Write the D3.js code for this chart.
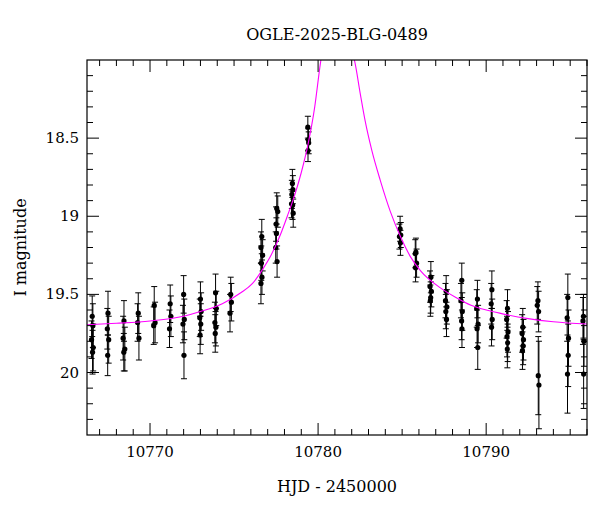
<!DOCTYPE html>
<html><head><meta charset="utf-8">
<script src="https://cdn.jsdelivr.net/npm/d3@7"></script>
<style>body{margin:0;background:#fff}svg{font-family:"DejaVu Serif","Liberation Serif",serif}</style>
</head><body><svg id="c" width="600" height="512"></svg>
<script>
const title = "OGLE-2025-BLG-0489";
const xLabel = "HJD - 2450000";
const yLabel = "I magnitude";
const xTicks = [10770, 10780, 10790];
const yTicks = [18.5, 19, 19.5, 20];
const yTickLabels = ["18.5", "19", "19.5", "20"];
// observations: [HJD-2450000, I mag, error]
const obsTimes = [
 10766.56,10766.6,10766.52,10766.62,10766.58,
 10767.5,10767.46,10767.54,10767.48,
 10768.45,10768.4,10768.5,10768.44,
 10769.3,10769.26,10769.34,
 10770.25,10770.3,10770.22,
 10771.2,10771.24,10771.16,
 10772.0,10772.04,10771.96,10772.02,
 10773.0,10773.04,10772.96,10773.02,10772.98,
 10773.9,10773.94,10773.86,10773.92,10773.88,
 10774.8,10774.84,10774.76,
 10776.65,10776.6,10776.7,10776.62,10776.66,10776.6,
 10777.54,10777.6,10777.5,10777.52,10777.48,10777.56,
 10778.47,10778.5,10778.44,10778.42,10778.48,10778.52,
 10779.39,10779.42,10779.44,10779.4,
 10784.88,10784.92,10784.84,10784.9,
 10785.82,10785.78,10785.86,10785.8,
 10786.71,10786.66,10786.74,10786.7,10786.68,
 10787.62,10787.58,10787.66,10787.6,10787.64,
 10788.55,10788.5,10788.58,10788.54,10788.56,
 10789.48,10789.44,10789.52,10789.46,10789.5,
 10790.34,10790.3,10790.36,10790.32,
 10791.27,10791.22,10791.3,10791.24,10791.28,10791.26,
 10792.18,10792.14,10792.22,10792.2,10792.16,
 10793.08,10793.04,10793.12,10793.1,10793.14,
 10794.86,10794.82,10794.9,10794.88,10794.84,
 10795.79,10795.76,10795.82,10795.8
];
const obsMags = [
 19.64,19.70,19.79,19.84,19.87,
 19.62,19.72,19.79,19.89,
 19.67,19.78,19.85,19.87,
 19.62,19.68,19.78,
 19.57,19.68,19.70,
 19.56,19.64,19.72,
 19.50,19.66,19.69,19.89,
 19.53,19.61,19.65,19.69,19.76,
 19.49,19.59,19.68,19.71,19.75,
 19.50,19.55,19.62,
 19.13,19.20,19.25,19.30,19.39,19.43,
 18.95,18.97,19.05,19.11,19.20,19.29,
 18.79,18.83,18.86,18.92,18.93,18.98,
 18.43,18.51,18.53,18.58,
 19.08,19.12,19.13,19.17,
 19.23,19.24,19.30,19.33,
 19.39,19.45,19.48,19.52,19.54,
 19.48,19.54,19.58,19.61,19.66,
 19.41,19.54,19.61,19.67,19.72,
 19.53,19.59,19.69,19.72,19.84,
 19.47,19.56,19.66,19.71,
 19.59,19.66,19.74,19.77,19.81,19.85,
 19.71,19.75,19.79,19.83,19.86,
 19.54,19.57,19.61,20.02,20.08,
 19.52,19.65,19.78,19.89,20.01,
 19.64,19.67,19.80,20.01
];
const obsErrs = [
 0.13,0.14,0.12,0.15,0.14,
 0.14,0.13,0.15,0.13,
 0.13,0.14,0.14,0.12,
 0.13,0.12,0.14,
 0.12,0.13,0.12,
 0.12,0.13,0.12,
 0.12,0.13,0.12,0.15,
 0.11,0.12,0.12,0.13,0.12,
 0.12,0.11,0.13,0.12,0.12,
 0.11,0.12,0.12,
 0.11,0.10,0.10,0.11,0.11,0.13,
 0.10,0.10,0.11,0.10,0.10,0.10,
 0.09,0.09,0.09,0.09,0.09,0.09,
 0.07,0.07,0.07,0.07,
 0.08,0.08,0.08,0.08,
 0.09,0.09,0.09,0.09,
 0.10,0.10,0.10,0.10,0.10,
 0.10,0.11,0.11,0.11,0.11,
 0.11,0.11,0.12,0.12,0.12,
 0.12,0.12,0.12,0.12,0.14,
 0.12,0.13,0.13,0.12,
 0.12,0.12,0.13,0.13,0.12,0.12,
 0.12,0.12,0.13,0.12,0.12,
 0.12,0.12,0.13,0.25,0.28,
 0.15,0.15,0.18,0.20,0.25,
 0.14,0.15,0.16,0.22
];
// model curve
const modelTimes = [10766.2,10768,10770,10772,10773,10774.3,10775.4,10776.1,10776.7,10777.2,10777.75,10778.2,10778.65,10779,10779.4,10779.8,10780.1,10780.3,
  10781.9,10782.2,10782.5,10782.8,10783.2,10783.7,10784.3,10784.9,10785.5,10786.1,10787.3,10788.2,10789.1,10790.8,10792.5,10794,10796.1];
const modelMags = [19.695,19.685,19.67,19.64,19.61,19.56,19.49,19.43,19.34,19.25,19.12,18.99,18.85,18.72,18.54,18.30,18.05,17.9,
  17.9,18.02,18.21,18.39,18.58,18.77,18.97,19.13,19.26,19.35,19.46,19.52,19.57,19.62,19.655,19.675,19.69];

const svg = d3.select("#c");
const L=87,R=587,T=60,B=435;
const x = d3.scaleLinear().domain([10766.25,10796.0]).range([L,R]);
const y = d3.scaleLinear().domain([18.0,20.4]).range([T,B]);

svg.append("defs").append("clipPath").attr("id","clip").append("rect").attr("x",L).attr("y",T).attr("width",R-L).attr("height",B-T);

const g = svg.append("g").attr("clip-path","url(#clip)");
const obs = obsTimes.map((t,i)=>({t,m:obsMags[i],e:obsErrs[i]}));
obs.forEach(d=>{
  const cx=x(d.t);
  g.append("line").attr("x1",cx).attr("x2",cx).attr("y1",y(d.m-d.e)).attr("y2",y(d.m+d.e)).attr("stroke","#000").attr("stroke-width",1);
  [d.m-d.e,d.m+d.e].forEach(v=>g.append("line").attr("x1",cx-3).attr("x2",cx+3).attr("y1",y(v)).attr("y2",y(v)).attr("stroke","#000").attr("stroke-width",1));
});
obs.forEach(d=>g.append("circle").attr("cx",x(d.t)).attr("cy",y(d.m)).attr("r",2.6).attr("fill","#000"));

const line = d3.line().x(d=>x(d[0])).y(d=>y(d[1])).curve(d3.curveMonotoneX);
g.append("path").datum(modelTimes.slice(0,18).map((t,i)=>[t,modelMags[i]])).attr("d",line).attr("fill","none").attr("stroke","#ff00ff").attr("stroke-width",1.1);
g.append("path").datum(modelTimes.slice(18).map((t,i)=>[t,modelMags[i+18]])).attr("d",line).attr("fill","none").attr("stroke","#ff00ff").attr("stroke-width",1.1);

svg.append("rect").attr("x",L).attr("y",T).attr("width",R-L).attr("height",B-T).attr("fill","none").attr("stroke","#000").attr("stroke-width",1.2);

// ticks on all sides, inward
const ax = svg.append("g").attr("stroke","#000").attr("stroke-width",1);
d3.range(10767,10797,1).forEach(t=>{
  if(x(t)>R) return;
  const major = t%10===0; const len = major?12:6;
  ax.append("line").attr("x1",x(t)).attr("x2",x(t)).attr("y1",B).attr("y2",B-len);
  ax.append("line").attr("x1",x(t)).attr("x2",x(t)).attr("y1",T).attr("y2",T+len);
});
d3.range(181,204,1).forEach(k=>{
  const v=k/10; const major = k%5===0; const len=major?12:6;
  ax.append("line").attr("x1",L).attr("x2",L+len).attr("y1",y(v)).attr("y2",y(v));
  ax.append("line").attr("x1",R).attr("x2",R-len).attr("y1",y(v)).attr("y2",y(v));
});
xTicks.forEach(t=>svg.append("text").attr("x",x(t)).attr("y",B+22).attr("text-anchor","middle").attr("font-size",15).text(t));
yTicks.forEach((v,i)=>svg.append("text").attr("x",L-8).attr("y",y(v)+5).attr("text-anchor","end").attr("font-size",15).text(yTickLabels[i]));
svg.append("text").attr("x",(L+R)/2).attr("y",492).attr("text-anchor","middle").attr("font-size",16).text(xLabel);
svg.append("text").attr("transform",`translate(26,${(T+B)/2}) rotate(-90)`).attr("text-anchor","middle").attr("font-size",16).text(yLabel);
svg.append("text").attr("x",(L+R)/2).attr("y",40).attr("text-anchor","middle").attr("font-size",16).text(title);
</script></body></html>
